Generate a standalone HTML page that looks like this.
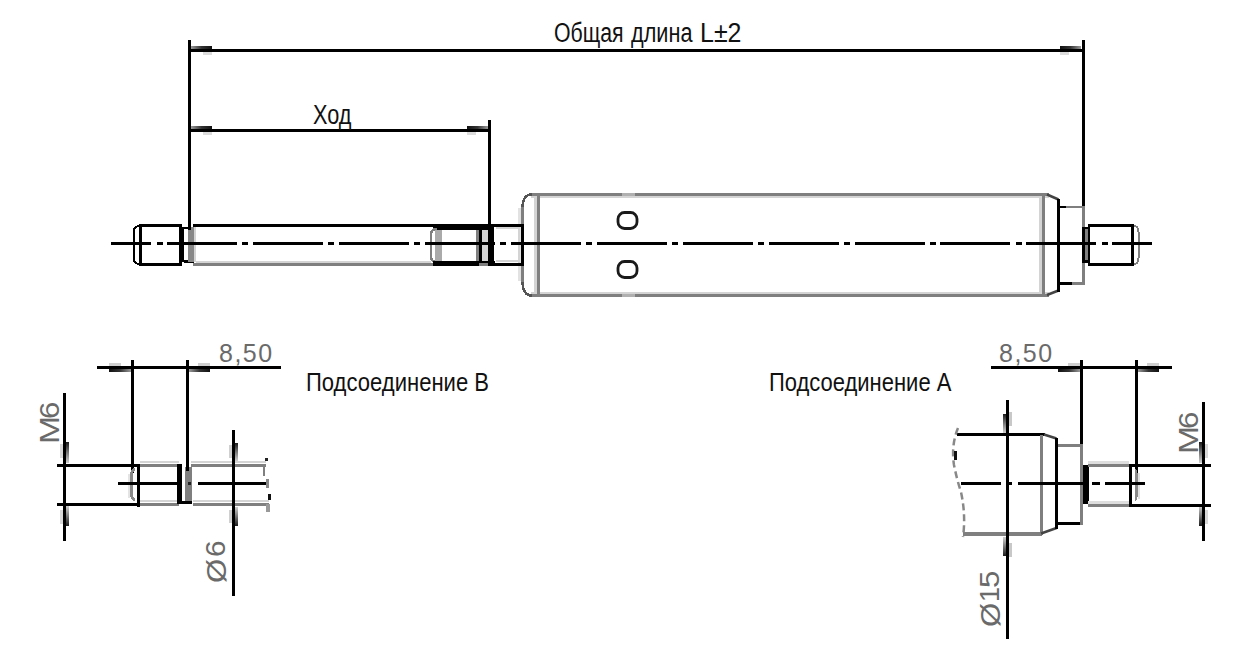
<!DOCTYPE html>
<html><head><meta charset="utf-8">
<style>
html,body{margin:0;padding:0;background:#fff;width:1252px;height:651px;overflow:hidden;position:relative}
svg{position:absolute;left:0;top:0}
.t{position:absolute;font-family:"Liberation Sans",sans-serif;color:#111;white-space:nowrap;line-height:1;transform-origin:0 0}
.s{position:absolute;font-family:"Liberation Sans",sans-serif;color:#6a6a6a;white-space:nowrap;line-height:1;transform-origin:0 0}
</style></head><body>
<svg width="1252" height="651" viewBox="0 0 1252 651" shape-rendering="crispEdges">
<defs>
<linearGradient id="gL2R" x1="0" y1="0" x2="1" y2="0"><stop offset="0" stop-color="#9a9a9a"/><stop offset="0.5" stop-color="#333"/><stop offset="1" stop-color="#111"/></linearGradient>
<linearGradient id="gR2L" x1="1" y1="0" x2="0" y2="0"><stop offset="0" stop-color="#9a9a9a"/><stop offset="0.5" stop-color="#333"/><stop offset="1" stop-color="#111"/></linearGradient>
<linearGradient id="gT2B" x1="0" y1="1" x2="0" y2="0"><stop offset="0" stop-color="#cfcfcf"/><stop offset="0.5" stop-color="#777"/><stop offset="1" stop-color="#1a1a1a"/></linearGradient>
<linearGradient id="gB2T" x1="0" y1="0" x2="0" y2="1"><stop offset="0" stop-color="#cfcfcf"/><stop offset="0.5" stop-color="#777"/><stop offset="1" stop-color="#1a1a1a"/></linearGradient>
</defs>
<rect x="531" y="196" width="518" height="2" fill="#d4d4d4"/>
<rect x="531" y="292" width="518" height="2" fill="#d4d4d4"/>
<rect x="531" y="193" width="518" height="3" fill="#7f7f7f"/>
<rect x="531" y="294" width="518" height="3" fill="#7f7f7f"/>
<path d="M 522.5 208 Q 522.5 194.5 532 194.5" fill="none" stroke="#555" stroke-width="2.5" />
<path d="M 522.5 281 Q 522.5 295.5 532 295.5" fill="none" stroke="#555" stroke-width="2.5" />
<rect x="518" y="208" width="3" height="73" fill="#e2e2e2"/>
<rect x="521" y="207" width="3" height="75" fill="#7f7f7f"/>
<rect x="534" y="197" width="3" height="96" fill="#d4d4d4"/>
<rect x="537" y="196" width="3" height="98" fill="#7f7f7f"/>
<rect x="1039" y="197" width="3" height="96" fill="#d4d4d4"/>
<rect x="1042" y="193" width="3" height="103" fill="#7f7f7f"/>
<rect x="622" y="193" width="13" height="3" fill="#b0b0b0"/>
<rect x="622" y="294" width="13" height="3" fill="#b0b0b0"/>
<rect x="618" y="212.5" width="19" height="16" rx="6.5" ry="6.5" fill="none" stroke="#1a1a1a" stroke-width="2.8" shape-rendering="auto"/>
<rect x="618" y="261.5" width="19" height="16" rx="6.5" ry="6.5" fill="none" stroke="#1a1a1a" stroke-width="2.8" shape-rendering="auto"/>
<path d="M 1047 194.5 L 1058.5 199.5" fill="none" stroke="#444" stroke-width="2.5" shape-rendering="auto"/>
<path d="M 1047 295 L 1058.5 290.5" fill="none" stroke="#444" stroke-width="2.5" shape-rendering="auto"/>
<rect x="1057" y="199" width="3" height="93" fill="#000"/>
<rect x="1060" y="206" width="25" height="2" fill="#7f7f7f"/>
<rect x="1060" y="206" width="6" height="2" fill="#000"/>
<rect x="1060" y="282" width="25" height="3" fill="#7f7f7f"/>
<rect x="1060" y="282" width="12" height="3" fill="#000"/>
<rect x="1082" y="206" width="3" height="79" fill="#7f7f7f"/>
<rect x="139" y="224" width="43" height="3" fill="#000"/>
<rect x="139" y="263" width="43" height="3" fill="#000"/>
<rect x="139" y="224" width="3" height="42" fill="#000"/>
<rect x="179" y="224" width="3" height="42" fill="#000"/>
<rect x="182" y="227" width="2" height="35" fill="#000"/>
<path d="M 140 226 Q 134 226 134 231 L 134 259 Q 134 264 140 264" fill="none" stroke="#000" stroke-width="2" />
<rect x="184" y="227" width="10" height="2" fill="#000"/>
<rect x="184" y="260" width="10" height="3" fill="#000"/>
<rect x="188" y="227" width="6" height="35" fill="#888"/>
<rect x="194" y="227" width="2" height="35" fill="#d4d4d4"/>
<rect x="193" y="224" width="331" height="3" fill="#000"/>
<rect x="196" y="261" width="235" height="2" fill="#d4d4d4"/>
<rect x="193" y="263" width="240" height="3" fill="#7f7f7f"/>
<rect x="433" y="227" width="57" height="3" fill="#000"/>
<path d="M 437 229 Q 431 229 431 235 L 431 256 Q 431 262 437 262" fill="none" stroke="#7f7f7f" stroke-width="2.5" />
<rect x="435" y="230" width="7" height="31" fill="#aaa"/>
<rect x="433" y="261" width="46" height="5" fill="#000"/>
<rect x="476" y="230" width="3" height="31" fill="#7f7f7f"/>
<rect x="479" y="227" width="3" height="36" fill="#000"/>
<rect x="482" y="230" width="6" height="31" fill="#d4d4d4"/>
<rect x="479" y="261" width="16" height="2" fill="#000"/>
<rect x="479" y="263" width="16" height="3" fill="#7f7f7f"/>
<rect x="488" y="224" width="6" height="42" fill="#000"/>
<rect x="494" y="263" width="30" height="3" fill="#000"/>
<rect x="496" y="227" width="24" height="2" fill="#d4d4d4"/>
<rect x="518" y="229" width="2" height="34" fill="#d4d4d4"/>
<rect x="496" y="260" width="24" height="2" fill="#d4d4d4"/>
<rect x="521" y="224" width="3" height="42" fill="#000"/>
<rect x="1082" y="227" width="8" height="36" fill="#000"/>
<rect x="1085" y="229" width="3" height="31" fill="#7f7f7f"/>
<rect x="1088" y="224" width="46" height="3" fill="#000"/>
<rect x="1088" y="263" width="46" height="3" fill="#000"/>
<rect x="1131" y="224" width="3" height="42" fill="#000"/>
<path d="M 1134 226 Q 1138.5 226 1138.5 232 L 1138.5 258 Q 1138.5 264 1134 264" fill="none" stroke="#7f7f7f" stroke-width="2" />
<rect x="111" y="242" width="40" height="3" fill="#000"/>
<rect x="157" y="242" width="6" height="3" fill="#000"/>
<rect x="167" y="242" width="70" height="3" fill="#000"/>
<rect x="242" y="242" width="6" height="3" fill="#000"/>
<rect x="253" y="242" width="70" height="3" fill="#000"/>
<rect x="328" y="242" width="6" height="3" fill="#000"/>
<rect x="339" y="242" width="70" height="3" fill="#000"/>
<rect x="414" y="242" width="6" height="3" fill="#000"/>
<rect x="425" y="242" width="70" height="3" fill="#000"/>
<rect x="500" y="242" width="6" height="3" fill="#000"/>
<rect x="511" y="242" width="70" height="3" fill="#000"/>
<rect x="586" y="242" width="6" height="3" fill="#000"/>
<rect x="597" y="242" width="70" height="3" fill="#000"/>
<rect x="672" y="242" width="6" height="3" fill="#000"/>
<rect x="683" y="242" width="70" height="3" fill="#000"/>
<rect x="758" y="242" width="6" height="3" fill="#000"/>
<rect x="769" y="242" width="70" height="3" fill="#000"/>
<rect x="844" y="242" width="6" height="3" fill="#000"/>
<rect x="855" y="242" width="70" height="3" fill="#000"/>
<rect x="930" y="242" width="6" height="3" fill="#000"/>
<rect x="940" y="242" width="70" height="3" fill="#000"/>
<rect x="1016" y="242" width="6" height="3" fill="#000"/>
<rect x="1026" y="242" width="70" height="3" fill="#000"/>
<rect x="1102" y="242" width="6" height="3" fill="#000"/>
<rect x="1112" y="242" width="40" height="3" fill="#000"/>
<rect x="188" y="40" width="3" height="190" fill="#000"/>
<rect x="1082" y="40" width="3" height="166" fill="#000"/>
<rect x="191" y="49" width="891" height="3" fill="#000"/>
<rect x="191" y="46" width="21" height="3" fill="url(#gL2R)"/>
<rect x="203" y="52" width="9" height="3" fill="#dcdcdc"/>
<rect x="1060" y="46" width="21" height="3" fill="url(#gR2L)"/>
<rect x="1060" y="52" width="9" height="3" fill="#dcdcdc"/>
<rect x="488" y="120" width="3" height="107" fill="#000"/>
<rect x="191" y="129" width="297" height="3" fill="#000"/>
<rect x="191" y="126" width="21" height="3" fill="url(#gL2R)"/>
<rect x="203" y="132" width="9" height="3" fill="#dcdcdc"/>
<rect x="467" y="126" width="21" height="3" fill="url(#gR2L)"/>
<rect x="467" y="132" width="9" height="3" fill="#dcdcdc"/>
<rect x="97" y="366" width="184" height="3" fill="#000"/>
<rect x="131" y="360" width="3" height="113" fill="#000"/>
<rect x="186" y="360" width="3" height="111" fill="#000"/>
<rect x="109" y="369" width="22" height="3" fill="url(#gR2L)"/>
<rect x="109" y="363" width="12" height="3" fill="#d0d0d0"/>
<rect x="189" y="369" width="21" height="3" fill="url(#gL2R)"/>
<rect x="198" y="363" width="12" height="3" fill="#d0d0d0"/>
<rect x="63" y="393" width="3" height="148" fill="#000"/>
<rect x="57" y="464" width="83" height="3" fill="#000"/>
<rect x="57" y="503" width="83" height="3" fill="#000"/>
<rect x="137" y="464" width="3" height="43" fill="#000"/>
<rect x="66" y="442" width="3" height="21" fill="url(#gT2B)"/>
<rect x="60" y="444" width="3" height="14" fill="#d8d8d8"/>
<rect x="66" y="506" width="3" height="20" fill="url(#gB2T)"/>
<rect x="60" y="510" width="3" height="14" fill="#d8d8d8"/>
<rect x="128" y="474" width="2" height="24" fill="#e4e4e4"/>
<path d="M 135 469 Q 131.5 470 131.5 475 L 131.5 494 Q 131.5 499 135 500" fill="none" stroke="#888" stroke-width="2.6" />
<rect x="140" y="461" width="39" height="2" fill="#d4d4d4"/>
<rect x="140" y="464" width="39" height="3" fill="#7f7f7f"/>
<rect x="140" y="500" width="39" height="2" fill="#d4d4d4"/>
<rect x="140" y="503" width="39" height="3" fill="#7f7f7f"/>
<rect x="191" y="461" width="75" height="2" fill="#d4d4d4"/>
<rect x="191" y="464" width="75" height="3" fill="#7f7f7f"/>
<rect x="193" y="500" width="76" height="2" fill="#d4d4d4"/>
<rect x="193" y="503" width="76" height="3" fill="#7f7f7f"/>
<rect x="177" y="464" width="5" height="40" fill="#000"/>
<rect x="185" y="467" width="7" height="34" fill="#7f7f7f"/>
<rect x="181" y="501" width="11" height="3" fill="#000"/>
<rect x="118" y="482" width="60" height="3" fill="#000"/>
<rect x="198" y="482" width="70" height="3" fill="#000"/>
<rect x="186" y="440" width="3" height="31" fill="#000"/>
<rect x="188" y="482" width="3" height="3" fill="#222"/>
<rect x="265" y="458" width="3" height="3" fill="#222"/>
<rect x="263" y="464" width="2" height="12" fill="#7f7f7f"/>
<rect x="266" y="479" width="3" height="9" fill="#888"/>
<rect x="268" y="494" width="3" height="6" fill="#111"/>
<rect x="266" y="504" width="4" height="8" fill="#999"/>
<rect x="232" y="430" width="3" height="166" fill="#000"/>
<rect x="235" y="443" width="3" height="18" fill="url(#gT2B)"/>
<rect x="229" y="445" width="3" height="13" fill="#d0d0d0"/>
<rect x="235" y="507" width="3" height="19" fill="url(#gB2T)"/>
<rect x="229" y="510" width="3" height="13" fill="#d0d0d0"/>
<rect x="991" y="366" width="181" height="3" fill="#000"/>
<rect x="1080" y="360" width="3" height="85" fill="#000"/>
<rect x="1135" y="360" width="3" height="113" fill="#000"/>
<rect x="1058" y="369" width="22" height="3" fill="url(#gR2L)"/>
<rect x="1068" y="363" width="12" height="3" fill="#d0d0d0"/>
<rect x="1138" y="369" width="21" height="3" fill="url(#gL2R)"/>
<rect x="1147" y="363" width="12" height="3" fill="#d0d0d0"/>
<rect x="1202" y="402" width="3" height="139" fill="#000"/>
<rect x="1199" y="442" width="3" height="21" fill="url(#gT2B)"/>
<rect x="1205" y="444" width="3" height="14" fill="#d8d8d8"/>
<rect x="1199" y="506" width="3" height="20" fill="url(#gB2T)"/>
<rect x="1205" y="510" width="3" height="14" fill="#d8d8d8"/>
<rect x="957" y="433" width="88" height="3" fill="#000"/>
<rect x="963" y="532" width="79" height="4" fill="#7f7f7f"/>
<rect x="1040" y="435" width="3" height="100" fill="#7f7f7f"/>
<path d="M 1044 434.5 L 1056.5 438.5" fill="none" stroke="#444" stroke-width="2.5" shape-rendering="auto"/>
<path d="M 1041 533.5 L 1056.5 528" fill="none" stroke="#444" stroke-width="2.5" shape-rendering="auto"/>
<rect x="1055" y="438" width="3" height="91" fill="#000"/>
<rect x="1058" y="444" width="23" height="3" fill="#7f7f7f"/>
<rect x="1058" y="522" width="23" height="3" fill="#000"/>
<rect x="1080" y="444" width="3" height="81" fill="#7f7f7f"/>
<path d="M 958 428 Q 951 445 954 465 Q 957 480 961 492 Q 966 515 963 537" fill="none" stroke="#888" stroke-width="2.5" stroke-dasharray="7 4" shape-rendering="auto"/>
<rect x="954" y="451" width="3" height="9" fill="#111"/>
<rect x="1083" y="465" width="6" height="39" fill="#000"/>
<rect x="1088" y="461" width="41" height="3" fill="#dedede"/>
<rect x="1088" y="464" width="43" height="3" fill="#7f7f7f"/>
<rect x="1088" y="501" width="41" height="3" fill="#dedede"/>
<rect x="1088" y="504" width="43" height="3" fill="#7f7f7f"/>
<rect x="1129" y="464" width="3" height="43" fill="#000"/>
<rect x="1130" y="464" width="81" height="3" fill="#000"/>
<rect x="1130" y="504" width="81" height="3" fill="#000"/>
<rect x="1138" y="473" width="2" height="26" fill="#e0e0e0"/>
<path d="M 1135 470 Q 1136.5 471 1136.5 476 L 1136.5 494 Q 1136.5 499 1135 500" fill="none" stroke="#888" stroke-width="2.6" />
<rect x="961" y="482" width="40" height="3" fill="#000"/>
<rect x="1009" y="482" width="3" height="3" fill="#000"/>
<rect x="1018" y="482" width="70" height="3" fill="#000"/>
<rect x="1092" y="482" width="8" height="3" fill="#000"/>
<rect x="1105" y="482" width="40" height="3" fill="#000"/>
<rect x="1006" y="400" width="3" height="239" fill="#000"/>
<rect x="1003" y="414" width="3" height="19" fill="url(#gT2B)"/>
<rect x="1009" y="412" width="3" height="14" fill="#c8c8c8"/>
<rect x="1003" y="537" width="3" height="19" fill="url(#gB2T)"/>
<rect x="1009" y="543" width="3" height="14" fill="#c8c8c8"/>
</svg>
<div class="t" style="left:554.2px;top:20px;font-size:27px;transform:scaleX(0.788)">Общая</div>
<div class="t" style="left:631px;top:20px;font-size:27px;transform:scaleX(0.803)">длина</div>
<div class="t" style="left:700.2px;top:20px;font-size:27px;transform:scaleX(0.925)">L±2</div>
<div class="t" style="left:313px;top:102px;font-size:27px;transform:scaleX(0.804)">Ход</div>
<div class="t" style="left:306px;top:369px;font-size:26px;transform:scaleX(0.848)">Подсоединение B</div>
<div class="t" style="left:769px;top:369px;font-size:26px;transform:scaleX(0.845)">Подсоединение A</div>
<div class="s" style="left:219px;top:341px;font-size:25px;letter-spacing:1.5px">8,50</div>
<div class="s" style="left:999px;top:341px;font-size:25px;letter-spacing:1.5px">8,50</div>
<div class="s" style="left:37px;top:444px;font-size:27px;transform:rotate(-90deg) scaleX(1.25)">M</div>
<div class="s" style="left:37px;top:419px;font-size:27px;transform:rotate(-90deg) scaleX(1.15)">6</div>
<div class="s" style="left:1176px;top:454px;font-size:27px;transform:rotate(-90deg) scaleX(1.25)">M</div>
<div class="s" style="left:1176px;top:429px;font-size:27px;transform:rotate(-90deg) scaleX(1.15)">6</div>
<div class="s" style="left:204px;top:583px;font-size:27px;transform:rotate(-90deg) scaleX(1.15)">Ø</div>
<div class="s" style="left:203px;top:557px;font-size:27px;transform:rotate(-90deg) scaleX(1.1)">6</div>
<div class="s" style="left:978px;top:627px;font-size:27px;transform:rotate(-90deg) scaleX(1.15)">Ø</div>
<div class="s" style="left:977px;top:602px;font-size:27px;transform:rotate(-90deg)">1</div>
<div class="s" style="left:977px;top:588px;font-size:27px;transform:rotate(-90deg) scaleX(1.15)">5</div>
</body></html>
